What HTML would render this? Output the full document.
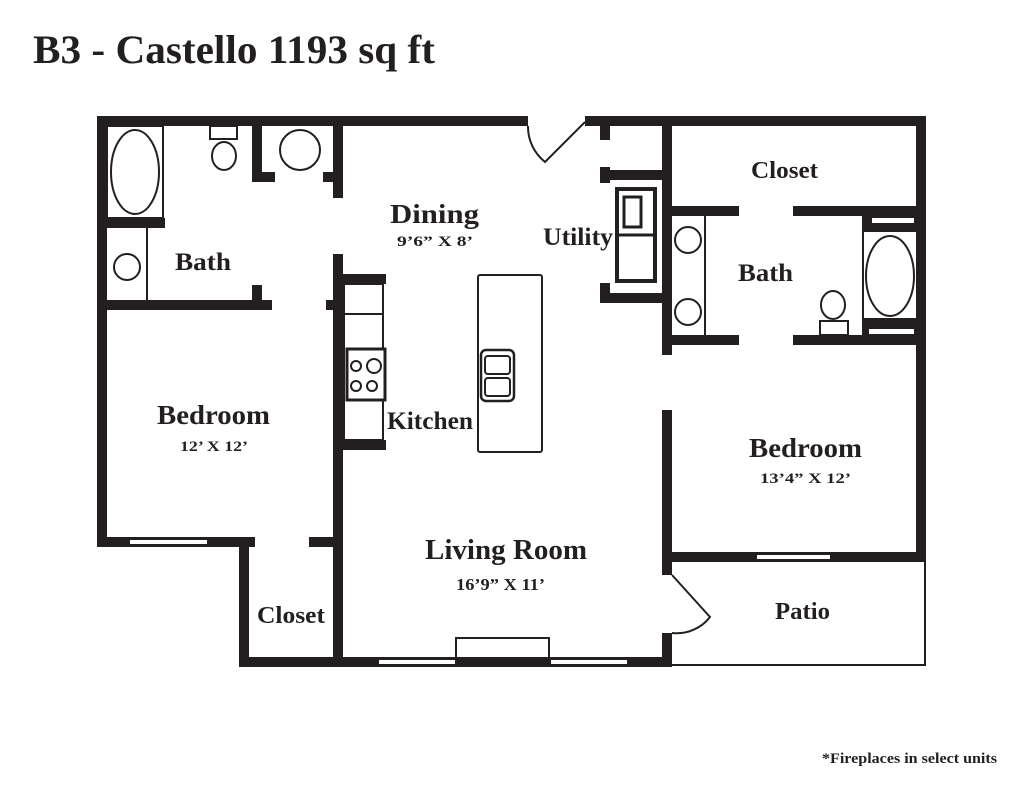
<!DOCTYPE html>
<html><head><meta charset="utf-8"><style>
html,body{margin:0;padding:0;background:#fff;}
svg{display:block;}
text{font-family:"Liberation Serif",serif;font-weight:bold;fill:#231f20;}
</style></head><body>
<svg width="1024" height="790" viewBox="0 0 1024 790" xmlns="http://www.w3.org/2000/svg">
<rect width="1024" height="790" fill="#fff"/>
<text x="33" y="63" font-size="40" textLength="402" lengthAdjust="spacingAndGlyphs">B3 - Castello 1193 sq ft</text>
<g fill="#231f20">
<rect x="97" y="116" width="431" height="10"/>
<rect x="585" y="116" width="341" height="10"/>
<rect x="97" y="116" width="10" height="431"/>
<rect x="97" y="537" width="158" height="10"/>
<rect x="239" y="537" width="10" height="130"/>
<rect x="239" y="657" width="433" height="10"/>
<rect x="916" y="116" width="10" height="446"/>
<rect x="662" y="116" width="10" height="239"/>
<rect x="662" y="410" width="10" height="165"/>
<rect x="662" y="633" width="10" height="34"/>
<rect x="672" y="552" width="254" height="10"/>
<rect x="252" y="126" width="10" height="56"/>
<rect x="262" y="172" width="13" height="10"/>
<rect x="333" y="126" width="10" height="72"/>
<rect x="323" y="172" width="10" height="10"/>
<rect x="107" y="218" width="58" height="10"/>
<rect x="107" y="300" width="165" height="10"/>
<rect x="252" y="285" width="10" height="15"/>
<rect x="333" y="254" width="10" height="403"/>
<rect x="326" y="300" width="7" height="10"/>
<rect x="343" y="274" width="43" height="10"/>
<rect x="343" y="440" width="43" height="10"/>
<rect x="309" y="537" width="24" height="10"/>
<rect x="600" y="126" width="10" height="14"/>
<rect x="600" y="167" width="10" height="16"/>
<rect x="600" y="170" width="62" height="10"/>
<rect x="600" y="283" width="10" height="20"/>
<rect x="600" y="293" width="62" height="10"/>
<rect x="672" y="206" width="67" height="10"/>
<rect x="793" y="206" width="123" height="10"/>
<rect x="672" y="335" width="67" height="10"/>
<rect x="793" y="335" width="123" height="10"/>
<rect x="862" y="216" width="54" height="16"/>
<rect x="862" y="318" width="54" height="17"/>
</g>
<g fill="#fff">
<rect x="872" y="218" width="42" height="5"/>
<rect x="869" y="329" width="45" height="5"/>
<rect x="130" y="540" width="77" height="4"/>
<rect x="379" y="660" width="76" height="4"/>
<rect x="551" y="660" width="76" height="4"/>
<rect x="757" y="555" width="73" height="4"/>
</g>
<g fill="none" stroke="#231f20" stroke-width="2">
<rect x="107" y="126" width="56" height="92"/>
<ellipse cx="135" cy="172" rx="24" ry="42"/>
<rect x="210" y="126" width="27" height="13"/>
<ellipse cx="224" cy="156" rx="12" ry="14"/>
<circle cx="300" cy="150" r="20"/>
<line x1="147" y1="228" x2="147" y2="300"/>
<circle cx="127" cy="267" r="13"/>
<rect x="344" y="284" width="39" height="156"/>
<line x1="344" y1="314" x2="383" y2="314"/>
<rect x="347" y="349" width="38" height="51" stroke-width="3" fill="#fff"/>
<circle cx="356" cy="366" r="5"/>
<circle cx="374" cy="366" r="7"/>
<circle cx="356" cy="386" r="5"/>
<circle cx="372" cy="386" r="5"/>
<rect x="478" y="275" width="64" height="177" rx="2"/>
<rect x="481" y="350" width="33" height="51" rx="5" stroke-width="2.5"/>
<rect x="485" y="356" width="25" height="18" rx="3"/>
<rect x="485" y="378" width="25" height="18" rx="3"/>
<rect x="617" y="189" width="38" height="92" stroke-width="4"/>
<line x1="617" y1="235" x2="655" y2="235" stroke-width="3"/>
<rect x="624" y="197" width="17" height="30" stroke-width="3"/>
<line x1="705" y1="216" x2="705" y2="335"/>
<circle cx="688" cy="240" r="13"/>
<circle cx="688" cy="312" r="13"/>
<ellipse cx="890" cy="276" rx="24" ry="40"/>
<line x1="863" y1="232" x2="863" y2="318"/>
<ellipse cx="833" cy="305" rx="12" ry="14"/>
<rect x="820" y="321" width="28" height="14"/>
<rect x="456" y="638" width="93" height="20"/>
<path d="M585 122 L545 162 A45 45 0 0 1 528 126"/>
<path d="M672 575 L710 617 A42 42 0 0 1 672 633"/>
<path d="M672 665 L925 665 L925 562"/>
</g>
<g>
<text x="390" y="223" font-size="27" textLength="89" lengthAdjust="spacingAndGlyphs">Dining</text>
<text x="397" y="246" font-size="15" textLength="76" lengthAdjust="spacingAndGlyphs">9’6” X 8’</text>
<text x="543" y="245" font-size="25" textLength="70" lengthAdjust="spacingAndGlyphs">Utility</text>
<text x="175" y="270" font-size="25" textLength="56" lengthAdjust="spacingAndGlyphs">Bath</text>
<text x="751" y="178" font-size="24" textLength="67" lengthAdjust="spacingAndGlyphs">Closet</text>
<text x="738" y="281" font-size="25" textLength="55" lengthAdjust="spacingAndGlyphs">Bath</text>
<text x="387" y="429" font-size="25" textLength="86" lengthAdjust="spacingAndGlyphs">Kitchen</text>
<text x="157" y="424" font-size="27" textLength="113" lengthAdjust="spacingAndGlyphs">Bedroom</text>
<text x="180" y="451" font-size="15" textLength="68" lengthAdjust="spacingAndGlyphs">12’ X 12’</text>
<text x="749" y="457" font-size="27" textLength="113" lengthAdjust="spacingAndGlyphs">Bedroom</text>
<text x="760" y="483" font-size="15" textLength="91" lengthAdjust="spacingAndGlyphs">13’4” X 12’</text>
<text x="425" y="559" font-size="28" textLength="162" lengthAdjust="spacingAndGlyphs">Living Room</text>
<text x="456" y="590" font-size="17" textLength="89" lengthAdjust="spacingAndGlyphs">16’9” X 11’</text>
<text x="257" y="623" font-size="24" textLength="68" lengthAdjust="spacingAndGlyphs">Closet</text>
<text x="775" y="619" font-size="24" textLength="55" lengthAdjust="spacingAndGlyphs">Patio</text>
</g>
<text x="822" y="763" font-size="15" textLength="175" lengthAdjust="spacingAndGlyphs">*Fireplaces in select units</text>
</svg>
</body></html>
